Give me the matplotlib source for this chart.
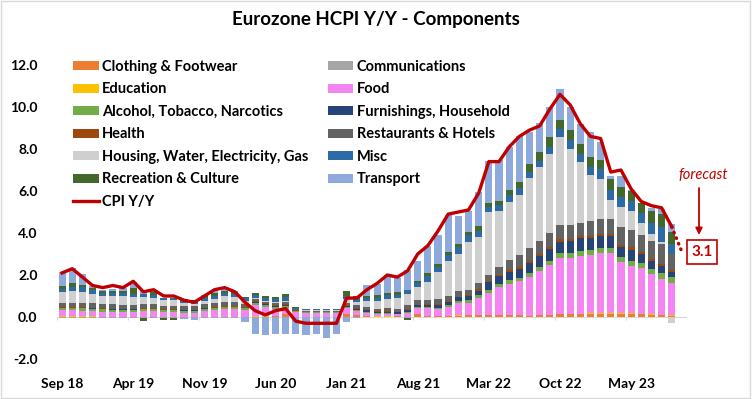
import matplotlib.pyplot as plt
import numpy as np
from matplotlib.patches import Rectangle

plt.rcParams['font.family'] = ['Lato', 'DejaVu Sans']

# monthly contributions (pp), Sep 18 .. Sep 23
clothing = [
    0.02, 0.02, 0.02, 0.02, 0.01, 0.01, 0.01, 0.01, 0.01, 0.01, 0.01, 0.01,
    0.01, 0.01, 0.01, 0.01, 0.01, 0.01, 0.01, 0.02, 0.02, 0.03, 0.12, 0.01,
    0.01, 0.01, 0.01, 0.01, 0.15, 0.08, 0.05, 0.02, 0.02, 0.03, -0.02, 0.15,
    0.06, 0.06, 0.06, 0.07, 0.10, 0.10, 0.10, 0.10, 0.10, 0.10, 0.05, 0.08,
    0.10, 0.12, 0.12, 0.12, 0.15, 0.15, 0.15, 0.15, 0.15, 0.12, 0.10, 0.08,
    0.05]
communications = [
    -0.03, -0.03, -0.03, -0.03, -0.03, -0.03, -0.03, -0.03, -0.03, -0.03, -0.03, -0.03,
    -0.03, -0.03, -0.03, -0.03, -0.03, -0.03, -0.02, -0.02, -0.02, -0.02, -0.02, -0.02,
    -0.02, -0.02, -0.02, -0.02, -0.02, -0.02, -0.02, -0.02, -0.02, -0.02, -0.02, -0.02,
    -0.02, -0.02, -0.02, -0.02, -0.01, -0.01, -0.01, -0.01, -0.01, -0.01, -0.01, -0.01,
    -0.01, -0.01, -0.01, 0.00, 0.01, 0.01, 0.01, 0.01, 0.01, 0.01, 0.01, 0.01,
    0.01]
education = [
    0.01, 0.01, 0.01, 0.01, 0.01, 0.01, 0.01, 0.01, 0.01, 0.01, 0.01, 0.01,
    0.01, 0.01, 0.01, 0.01, 0.01, 0.01, 0.01, 0.01, 0.01, 0.01, 0.01, 0.01,
    0.01, 0.01, 0.01, 0.01, 0.01, 0.01, 0.01, 0.01, 0.01, 0.01, 0.01, 0.01,
    0.01, 0.01, 0.01, 0.01, 0.01, 0.01, 0.01, 0.01, 0.01, 0.01, 0.01, 0.01,
    0.01, 0.01, 0.01, 0.01, 0.02, 0.02, 0.02, 0.02, 0.02, 0.02, 0.02, 0.02,
    0.02]
food = [
    0.28, 0.28, 0.26, 0.25, 0.24, 0.23, 0.22, 0.22, 0.26, 0.25, 0.20, 0.20,
    0.17, 0.18, 0.27, 0.30, 0.35, 0.35, 0.30, 0.55, 0.45, 0.35, 0.30, 0.20,
    0.15, 0.15, 0.15, 0.15, 0.25, 0.20, 0.15, 0.10, 0.10, 0.08, 0.20, 0.25,
    0.35, 0.33, 0.42, 0.60, 0.58, 0.80, 1.03, 1.32, 1.47, 1.60, 1.85, 2.11,
    2.38, 2.68, 2.68, 2.78, 2.75, 2.85, 2.85, 2.42, 2.25, 2.16, 1.90, 1.72,
    1.52]
alcohol = [
    0.12, 0.12, 0.12, 0.12, 0.10, 0.10, 0.10, 0.10, 0.10, 0.10, 0.10, 0.10,
    0.10, 0.10, 0.10, 0.10, 0.10, 0.10, 0.10, 0.10, 0.10, 0.10, 0.10, 0.06,
    0.05, 0.05, 0.05, 0.05, 0.06, 0.05, 0.05, 0.05, 0.05, 0.04, 0.04, 0.05,
    0.05, 0.05, 0.06, 0.07, 0.10, 0.12, 0.14, 0.15, 0.17, 0.17, 0.18, 0.20,
    0.20, 0.22, 0.24, 0.24, 0.24, 0.24, 0.24, 0.28, 0.26, 0.27, 0.27, 0.27,
    0.30]
furnishings = [
    0.02, 0.02, 0.02, 0.02, 0.02, 0.02, 0.02, 0.02, 0.02, 0.02, 0.02, 0.02,
    0.02, 0.02, 0.02, 0.02, 0.02, 0.02, 0.02, 0.03, 0.04, 0.04, 0.04, 0.01,
    0.01, 0.01, 0.01, 0.01, 0.06, 0.06, 0.05, 0.06, 0.07, 0.06, 0.08, 0.10,
    0.12, 0.14, 0.16, 0.18, 0.20, 0.23, 0.38, 0.38, 0.40, 0.42, 0.48, 0.50,
    0.55, 0.55, 0.58, 0.60, 0.60, 0.57, 0.57, 0.44, 0.52, 0.40, 0.37, 0.32,
    0.24]
health = [
    0.03, 0.03, 0.03, 0.03, 0.03, 0.03, 0.03, 0.03, 0.03, 0.03, 0.03, 0.03,
    0.03, 0.03, 0.03, 0.03, 0.03, 0.03, 0.03, 0.03, 0.03, 0.03, 0.03, 0.02,
    0.02, 0.02, 0.02, 0.02, 0.03, 0.03, 0.03, 0.03, 0.03, 0.03, 0.03, 0.03,
    0.03, 0.03, 0.03, 0.04, 0.05, 0.05, 0.06, 0.06, 0.07, 0.08, 0.08, 0.09,
    0.10, 0.12, 0.10, 0.10, 0.10, 0.12, 0.10, 0.10, 0.10, 0.10, 0.10, 0.12,
    0.10]
restaurants = [
    0.20, 0.20, 0.20, 0.20, 0.20, 0.20, 0.20, 0.20, 0.18, 0.18, 0.17, 0.17,
    0.17, 0.17, 0.18, 0.18, 0.18, 0.18, 0.15, 0.13, 0.08, 0.12, 0.13, 0.05,
    0.05, 0.05, 0.05, 0.05, 0.12, 0.12, 0.12, 0.12, 0.13, 0.15, 0.20, 0.20,
    0.20, 0.22, 0.25, 0.25, 0.25, 0.30, 0.30, 0.35, 0.50, 0.55, 0.65, 0.65,
    0.67, 0.68, 0.63, 0.65, 0.68, 0.70, 0.75, 0.87, 0.84, 0.84, 0.84, 0.95,
    0.76]
housing = [
    0.52, 0.55, 0.55, 0.45, 0.40, 0.40, 0.40, 0.38, 0.35, 0.30, 0.25, 0.25,
    0.15, 0.12, 0.15, 0.20, 0.28, 0.25, 0.12, 0.05, 0.02, 0.02, 0.05, 0.02,
    0.02, 0.02, 0.02, 0.02, 0.18, 0.18, 0.28, 0.35, 0.45, 0.50, 0.55, 0.62,
    0.87, 1.30, 1.67, 1.80, 2.30, 2.20, 3.00, 2.70, 2.78, 2.90, 3.30, 3.50,
    3.73, 4.20, 3.65, 2.90, 2.20, 1.90, 0.87, 0.95, 0.90, 0.55, 0.32, 0.08,
    -0.30]
misc = [
    0.15, 0.20, 0.20, 0.17, 0.15, 0.15, 0.15, 0.14, 0.14, 0.14, 0.13, 0.13,
    0.13, 0.13, 0.14, 0.15, 0.15, 0.15, 0.15, 0.15, 0.17, 0.17, 0.15, 0.06,
    0.06, 0.06, 0.06, 0.06, 0.15, 0.15, 0.15, 0.17, 0.18, 0.17, 0.18, 0.20,
    0.28, 0.25, 0.28, 0.30, 0.30, 0.30, 0.24, 0.26, 0.30, 0.30, 0.30, 0.30,
    0.35, 0.37, 0.40, 0.38, 0.40, 0.48, 0.50, 0.48, 0.48, 0.48, 0.55, 0.70,
    0.48]
recreation = [
    0.15, 0.18, 0.10, 0.10, 0.08, 0.10, 0.10, 0.25, -0.15, 0.15, -0.12, -0.12,
    0.05, 0.05, 0.08, 0.15, 0.10, 0.10, 0.05, 0.05, 0.08, 0.10, 0.15, 0.02,
    0.02, 0.02, 0.02, 0.02, 0.25, 0.10, 0.10, 0.12, 0.12, 0.10, -0.10, 0.10,
    0.12, 0.15, 0.15, 0.15, 0.15, 0.20, 0.16, 0.20, 0.24, 0.30, 0.40, 0.40,
    0.48, 0.43, 0.48, 0.45, 0.45, 0.45, 0.52, 0.48, 0.48, 0.50, 0.55, 0.63,
    0.55]
transport = [
    0.65, 0.72, 0.52, 0.12, 0.03, 0.10, 0.12, 0.30, 0.12, 0.05, 0.00, 0.00,
    -0.05, -0.10, 0.05, 0.15, 0.20, 0.05, -0.22, -0.78, -0.86, -0.80, -0.78, -0.78,
    -0.86, -0.80, -0.97, -0.80, -0.22, -0.05, 0.55, 0.55, 0.85, 0.68, 0.95, 0.95,
    1.27, 1.35, 1.75, 1.35, 1.00, 1.65, 2.00, 1.95, 2.06, 2.20, 1.50, 1.40,
    1.43, 1.50, 1.10, 0.95, 1.20, 0.85, 0.15, 0.50, 0.05, 0.00, 0.16, 0.24,
    0.40]
cpi = [
    2.1, 2.3, 1.9, 1.5, 1.4, 1.5, 1.4, 1.7, 1.2, 1.3, 1.0, 1.0,
    0.8, 0.7, 1.0, 1.3, 1.4, 1.2, 0.7, 0.3, 0.1, 0.3, 0.4, -0.2,
    -0.3, -0.3, -0.3, -0.3, 0.9, 0.9, 1.3, 1.6, 2.0, 1.9, 2.2, 3.0,
    3.4, 4.1, 4.9, 5.0, 5.1, 5.9, 7.4, 7.4, 8.1, 8.6, 8.9, 9.1,
    9.9, 10.6, 10.1, 9.2, 8.6, 8.5, 6.9, 7.0, 6.1, 5.5, 5.3, 5.2,
    4.3]
forecast = 3.1

tick_labels = ['Sep 18', 'Apr 19', 'Nov 19', 'Jun 20', 'Jan 21',
               'Aug 21', 'Mar 22', 'Oct 22', 'May 23']

# stacking order (bottom up) = legend order, read row by row
series = [
    ('Clothing & Footwear', clothing, '#ED7D31'),
    ('Communications', communications, '#A5A5A5'),
    ('Education', education, '#FFC000'),
    ('Food', food, '#F484F2'),
    ('Alcohol, Tobacco, Narcotics', alcohol, '#70AD47'),
    ('Furnishings, Household', furnishings, '#264478'),
    ('Health', health, '#9E480E'),
    ('Restaurants & Hotels', restaurants, '#636363'),
    ('Housing, Water, Electricity, Gas', housing, '#CFCFCF'),
    ('Misc', misc, '#2E6BA6'),
    ('Recreation & Culture', recreation, '#43682B'),
    ('Transport', transport, '#8EA9DB'),
]

red = '#C00000'
n = len(cpi)
x = np.arange(n)

fig = plt.figure(figsize=(7.52, 3.99), dpi=100)
ax = fig.add_axes([57 / 752, 40 / 399, 630 / 752, 294 / 399])

pos = np.zeros(n)
neg = np.zeros(n)
handles = []
for name, vals, col in series:
    v = np.array(vals)
    p = np.where(v > 0, v, 0)
    q = np.where(v < 0, v, 0)
    h = ax.bar(x, p, 0.7, bottom=pos, color=col, label=name, zorder=2)
    ax.bar(x, q, 0.7, bottom=neg, color=col, zorder=2)
    pos += p
    neg += q
    handles.append(h)

line, = ax.plot(x, cpi, color=red, lw=2.4, label='CPI Y/Y', zorder=3,
                solid_joinstyle='round')
ax.plot([n - 1, n], [cpi[-1], forecast], color=red, lw=2.4, zorder=3,
        ls=(0, (0.2, 1.6)), dash_capstyle='round')

# zero line + small category ticks
ax.axhline(0, color='#D9D9D9', lw=0.8, zorder=1)
ax.vlines(np.arange(-0.5, n + 1, 7), -0.15, 0, color='#D9D9D9', lw=0.8, zorder=1)

ax.set_xlim(-0.5, n + 0.5)
ax.set_ylim(-2, 12)
ax.set_yticks(np.arange(-2, 13, 2))
ax.set_yticklabels(['{:.1f}'.format(v) for v in np.arange(-2, 13, 2)],
                   fontsize=10, fontweight='bold')
ax.set_xticks(np.arange(0, n, 7))
ax.set_xticklabels(tick_labels, fontsize=10, fontweight='bold')
ax.tick_params(axis='y', length=0, pad=14)
ax.tick_params(axis='x', length=0, pad=14)
for s in ax.spines.values():
    s.set_visible(False)

order_left = [0, 2, 4, 6, 8, 10]
order_right = [1, 3, 5, 7, 9, 11]
leg_handles = [handles[i] for i in order_left] + [line] + [handles[i] for i in order_right]
leg_labels = [series[i][0] for i in order_left] + ['CPI Y/Y'] + [series[i][0] for i in order_right]
fig.legend(leg_handles, leg_labels, ncol=2, loc='upper left',
           bbox_to_anchor=(73 / 752, 1 - 60 / 399), frameon=False,
           prop={'size': 10.5, 'weight': 'bold'}, borderaxespad=0, borderpad=0,
           handlelength=1.75, handleheight=0.55, handletextpad=0.25,
           labelspacing=0.58, columnspacing=1.3)

fig.text(376 / 752, 1 - 20 / 399, 'Eurozone HCPI Y/Y - Components',
         ha='center', va='center', fontsize=13.5, fontweight='bold')

# forecast annotation
fig.text(703 / 752, 1 - 175 / 399, 'forecast', ha='center', va='center',
         fontsize=10.5, style='italic', color=red)
ax.annotate('', xy=(699 / 752, 1 - 235 / 399), xytext=(699 / 752, 1 - 188 / 399),
            xycoords='figure fraction', textcoords='figure fraction',
            arrowprops=dict(arrowstyle='-|>', color=red, lw=1.3,
                            mutation_scale=10, shrinkA=0, shrinkB=0))
fig.text(702 / 752, 1 - 252 / 399, '3.1', ha='center', va='center',
         fontsize=11, fontweight='bold', color=red,
         bbox=dict(boxstyle='square,pad=0.3', fc='white', ec=red, lw=1.2))

fig.add_artist(Rectangle((0.001, 0.002), 0.997, 0.996, transform=fig.transFigure,
                         fill=False, edgecolor='#D9D9D9', lw=1))

fig.savefig('out.png', dpi=100)
